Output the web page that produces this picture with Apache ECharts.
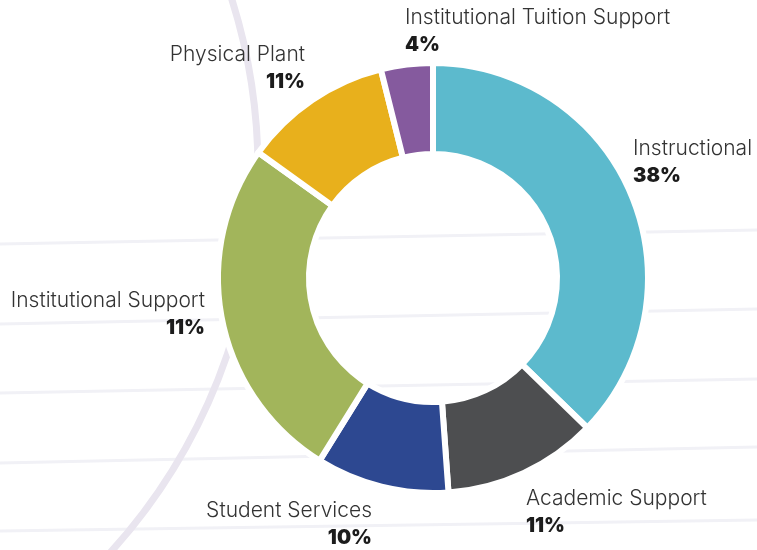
<!DOCTYPE html>
<html>
<head>
<meta charset="utf-8">
<script src="https://cdn.jsdelivr.net/npm/echarts@6/dist/echarts.min.js"></script>
<style>
  html, body { margin: 0; padding: 0; background: #ffffff; }
  #chart { width: 757px; height: 550px; }
</style>
</head>
<body>
<div id="chart"></div>
<script>
// ---- data ----
const categories = ["Instructional", "Academic Support", "Student Services", "Institutional Support", "Physical Plant", "Institutional Tuition Support"];
const sliceValues = [37.3, 11.6, 10.0, 26.1, 11.2, 3.9];
const percentLabels = ["38%", "11%", "10%", "11%", "11%", "4%"];
const sliceColors = ["#5cbacd", "#4d4e50", "#2d4891", "#a2b55b", "#e8b01c", "#855a9e"];

// ---- label placement (style, not data) ----
const labelPlace = [
  { x: 633, y: 135.5, align: "left" },
  { x: 526, y: 485.5, align: "left" },
  { x: 372, y: 497.5, align: "right" },
  { x: 205, y: 287.5, align: "right" },
  { x: 305, y: 41.5,  align: "right" },
  { x: 405, y: 4.5,   align: "left" }
];

const chart = echarts.init(document.getElementById("chart"), null, { renderer: "canvas" });

const bgLines = [
  [0, 244, 757, 230],
  [0, 324, 757, 309],
  [0, 393, 757, 379],
  [0, 463, 757, 447],
  [0, 531, 757, 520]
].map(l => ({
  type: "line",
  shape: { x1: l[0], y1: l[1], x2: l[2], y2: l[3] },
  style: { stroke: "#f1f1f6", lineWidth: 3 },
  z: 0, silent: true
}));

const option = {
  backgroundColor: "#ffffff",
  animation: false,
  graphic: bgLines.concat([{
    type: "circle",
    shape: { cx: -311, cy: 170, r: 569 },
    style: { fill: "none", stroke: "#e9e5ef", lineWidth: 7 },
    z: 0, silent: true
  }]),
  series: [{
    type: "pie",
    center: [433, 278],
    radius: [124, 215],
    startAngle: 90,
    clockwise: true,
    avoidLabelOverlap: false,
    itemStyle: { borderColor: "#ffffff", borderWidth: 6 },
    labelLine: { show: false },
    label: {
      show: true,
      position: "outside",
      formatter: p => "{n|" + p.name + "}\n{p|" + percentLabels[p.dataIndex] + "}",
      rich: {
        n: { fontFamily: "Inter", fontWeight: 300, fontSize: 21, color: "#333333", lineHeight: 27 },
        p: { fontFamily: "Inter", fontWeight: 900, fontSize: 20, color: "#1c1c1c", lineHeight: 27 }
      }
    },
    labelLayout: params => {
      const lp = labelPlace[params.dataIndex];
      return { x: lp.x, y: lp.y, align: lp.align, verticalAlign: "top" };
    },
    data: categories.map((c, i) => ({
      name: c,
      value: sliceValues[i],
      itemStyle: { color: sliceColors[i] }
    }))
  }]
};
chart.setOption(option);
</script>
</body>
</html>
